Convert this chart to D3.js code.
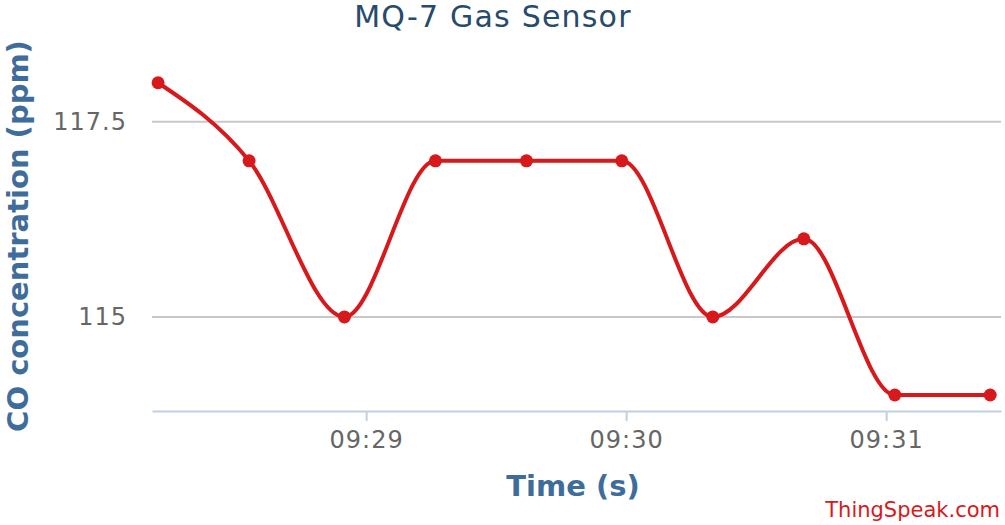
<!DOCTYPE html>
<html>
<head>
<meta charset="utf-8">
<script src="https://cdn.jsdelivr.net/npm/d3@7"></script>
<style>
  html, body { margin: 0; padding: 0; background: #fff; }
  svg { display: block; }
</style>
</head>
<body>
<svg id="chart" width="1005" height="525"></svg>
<script>
// ---- data ----
const times = ["09:28:12", "09:28:33", "09:28:55", "09:29:16", "09:29:37", "09:29:59", "09:30:20", "09:30:41", "09:31:02", "09:31:24"];
const coValues = [118, 117, 115, 117, 117, 117, 115, 116, 114, 114];
const yTicks = [115, 117.5];
const xTickTimes = ["09:29:00", "09:30:00", "09:31:00"];
const xDomain = ["09:28:10.6", "09:31:26.5"];
const yDomain = [113.795, 119.06];

(function () {
const parse = s => {
  const [h, m, sec] = s.split(":");
  return new Date(2000, 0, 1, +h, +m, 0, Math.round(parseFloat(sec) * 1000));
};
const data = times.map((t, i) => ({ t: parse(t), v: coValues[i] }));

const svg = d3.select("#chart");
const pLeft = 152, pRight = 1001, pTop = 0, pBottom = 411;

const x = d3.scaleTime().domain(xDomain.map(parse)).range([pLeft, pRight]);
const y = d3.scaleLinear().domain(yDomain).range([pBottom, pTop]);

const font = "'DejaVu Sans', Verdana, sans-serif";

// gridlines
svg.append("g")
  .selectAll("line").data(yTicks).join("line")
  .attr("x1", pLeft).attr("x2", pRight)
  .attr("y1", d => y(d)).attr("y2", d => y(d))
  .attr("stroke", "#c8c8c8").attr("stroke-width", 2);

// y tick labels
svg.append("g")
  .selectAll("text").data(yTicks).join("text")
  .attr("x", 127).attr("y", d => y(d))
  .attr("dy", "0.35em")
  .attr("text-anchor", "end")
  .attr("font-family", font).attr("font-size", 24)
  .attr("letter-spacing", 1)
  .attr("fill", "#666")
  .text(d => d3.format("")(d));

// x axis
const xAxis = d3.axisBottom(x)
  .tickValues(xTickTimes.map(parse))
  .tickFormat(d3.timeFormat("%H:%M"))
  .tickSize(10).tickSizeOuter(0);
const gx = svg.append("g").attr("transform", `translate(0,${pBottom})`).call(xAxis);
gx.select(".domain").attr("stroke", "#c0d0e0").attr("stroke-width", 2);
gx.selectAll(".tick line").attr("stroke", "#c0d0e0").attr("stroke-width", 2).attr("y1", 0).attr("y2", 10);
gx.selectAll(".tick text")
  .attr("font-family", font).attr("font-size", 24)
  .attr("fill", "#666").attr("y", 20).attr("dy", "0.71em")
  .attr("letter-spacing", 1);

// line
const line = d3.line().x(d => x(d.t)).y(d => y(d.v)).curve(d3.curveMonotoneX);
svg.append("path").datum(data)
  .attr("d", line)
  .attr("fill", "none")
  .attr("stroke", "#d7191c")
  .attr("stroke-width", 4);

svg.append("g").selectAll("circle").data(data).join("circle")
  .attr("cx", d => x(d.t)).attr("cy", d => y(d.v))
  .attr("r", 6.5).attr("fill", "#d7191c");

// title
svg.append("text")
  .attr("x", 493).attr("y", 27)
  .attr("text-anchor", "middle")
  .attr("font-family", font).attr("font-size", 30)
  .attr("letter-spacing", 1.2)
  .attr("fill", "#274b6d")
  .text("MQ-7 Gas Sensor");

// y axis title
svg.append("text")
  .attr("transform", `translate(28,${236}) rotate(-90)`)
  .attr("text-anchor", "middle")
  .attr("font-family", font).attr("font-size", 29).attr("font-weight", "bold")
  .attr("fill", "#3f6d9b")
  .text("CO concentration (ppm)");

// x axis title
svg.append("text")
  .attr("x", 573).attr("y", 496)
  .attr("text-anchor", "middle")
  .attr("font-family", font).attr("font-size", 29).attr("font-weight", "bold")
  .attr("fill", "#3f6d9b")
  .text("Time (s)");

// credits
svg.append("text")
  .attr("x", 1000).attr("y", 517)
  .attr("text-anchor", "end")
  .attr("font-family", font).attr("font-size", 21)
  .attr("fill", "#d7191c")
  .text("ThingSpeak.com");
})();
</script>
</body>
</html>
